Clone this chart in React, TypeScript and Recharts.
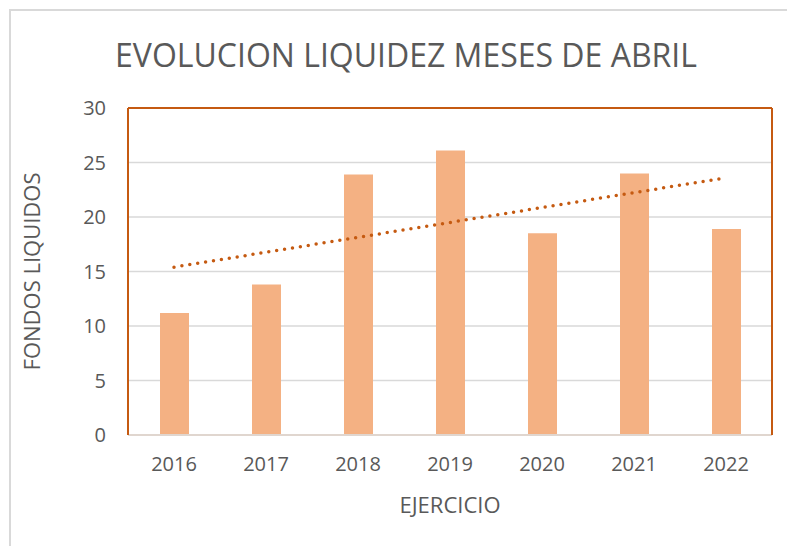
import { ComposedChart, Bar, Line, XAxis, YAxis, CartesianGrid, ReferenceLine } from 'recharts';

const years = ['2016', '2017', '2018', '2019', '2020', '2021', '2022'];
const fondos = [11.2, 13.8, 23.9, 26.1, 18.5, 24.0, 18.9];
// linear trend line, endpoints
const trendStart = 15.4;
const trendEnd = 23.6;
const yTicks = [0, 5, 10, 15, 20, 25, 30];

const data = years.map((year, i) => ({
  year,
  fondos: fondos[i],
  trend: i === 0 ? trendStart : i === years.length - 1 ? trendEnd : null,
}));

const FONT = '"Open Sans", "Liberation Sans", sans-serif';
const TEXT = '#595959';
const ORANGE = '#C55A11';

export default function App() {
  return (
    <div style={{ position: 'absolute', left: 0, top: 0, width: 787, height: 546, background: '#fff', overflow: 'hidden', fontFamily: FONT }}>
      {/* chart area frame */}
      <div style={{ position: 'absolute', left: 9, top: 9, width: 800, height: 560, borderLeft: '2px solid #d9d9d9', borderTop: '2px solid #d9d9d9' }} />
      <div style={{ position: 'absolute', left: 0, top: 33, width: 812, textAlign: 'center', fontSize: 32, color: TEXT }}>
        EVOLUCION LIQUIDEZ MESES DE ABRIL
      </div>
      <div style={{ position: 'absolute', left: 0, top: 0 }}>
        <ComposedChart width={787} height={546} data={data} margin={{ top: 108, right: 14, bottom: 0, left: 20 }}>
          <CartesianGrid vertical={false} stroke="#d9d9d9" strokeWidth={1.5} />
          <XAxis
            dataKey="year"
            axisLine={{ stroke: '#e0d6cf', strokeWidth: 2 }}
            tickLine={false}
            tickSize={0}
            tickMargin={22}
            height={111}
            tick={{ fill: TEXT, fontSize: 20, fontFamily: FONT }}
            label={{ value: 'EJERCICIO', position: 'insideTop', offset: 62, fill: TEXT, fontSize: 22, fontFamily: FONT }}
          />
          <YAxis
            domain={[0, 30]}
            ticks={yTicks}
            axisLine={{ stroke: ORANGE, strokeWidth: 2 }}
            tickLine={false}
            tickSize={0}
            tickMargin={22}
            width={108}
            tick={{ fill: TEXT, fontSize: 20, fontFamily: FONT }}
            label={{ value: 'FONDOS LIQUIDOS', angle: -90, position: 'insideLeft', offset: 12, fill: TEXT, fontSize: 22, fontFamily: FONT, style: { textAnchor: 'middle' } }}
          />
          <YAxis
            yAxisId="right"
            orientation="right"
            domain={[0, 30]}
            width={1}
            tick={false}
            tickLine={false}
            axisLine={{ stroke: ORANGE, strokeWidth: 2 }}
          />
          <ReferenceLine y={30} stroke={ORANGE} strokeWidth={2} />
          <Bar dataKey="fondos" fill="#F4B183" barSize={29} isAnimationActive={false} />
          <Line
            dataKey="trend"
            connectNulls
            stroke={ORANGE}
            strokeWidth={3.5}
            strokeDasharray="0 8"
            strokeLinecap="round"
            dot={false}
            activeDot={false}
            isAnimationActive={false}
          />
        </ComposedChart>
      </div>
    </div>
  );
}
